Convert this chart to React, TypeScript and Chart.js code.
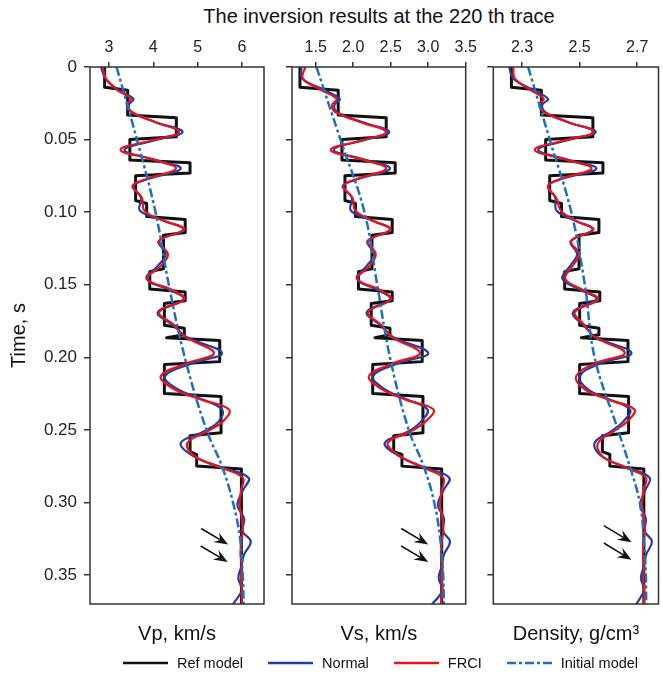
import React, { useEffect, useRef } from 'react';
import { Chart, registerables } from 'chart.js';

Chart.register(...registerables);

const FONT = '"Liberation Sans", Arial, Helvetica, sans-serif';

// ---------------- data ----------------
const T_MAX = 0.37;

// time axis ticks
const yTicks = [0, 0.05, 0.1, 0.15, 0.2, 0.25, 0.3, 0.35];
const yTickLabels = ['0', '0.05', '0.10', '0.15', '0.20', '0.25', '0.30', '0.35'];

// x-axis ticks per panel
const vpTicks = [3, 4, 5, 6];
const vpTickLabels = ['3', '4', '5', '6'];
const vsTicks = [1.5, 2.0, 2.5, 3.0, 3.5];
const vsTickLabels = ['1.5', '2.0', '2.5', '3.0', '3.5'];
const denTicks = [2.3, 2.5, 2.7];
const denTickLabels = ['2.3', '2.5', '2.7'];

// Reference model: layer top times (s) and layer values
const refTops = [0, 0.015, 0.034, 0.049, 0.065, 0.074, 0.093, 0.104, 0.115, 0.140, 0.154, 0.162, 0.179, 0.1855, 0.1875, 0.204, 0.226, 0.253, 0.266, 0.276];
const vpRef = [2.9, 3.42, 4.52, 3.47, 4.83, 3.6, 3.85, 4.72, 4.23, 3.92, 4.72, 4.25, 4.7, 4.3, 5.5, 4.25, 5.53, 4.83, 4.98, 5.99];
const vsRef = [1.29, 1.80, 2.44, 1.85, 2.56, 1.89, 2.03, 2.52, 2.25, 2.07, 2.52, 2.24, 2.49, 2.29, 2.92, 2.26, 2.93, 2.54, 2.65, 3.18];
const denRef = [2.263, 2.367, 2.546, 2.382, 2.581, 2.396, 2.437, 2.567, 2.498, 2.448, 2.57, 2.50, 2.567, 2.506, 2.668, 2.50, 2.67, 2.579, 2.605, 2.723];

// Inverted curves (Normal, FRCI) sampled at these times
const tSmooth = [0, 0.008, 0.016, 0.022, 0.026, 0.031, 0.038, 0.0447, 0.050, 0.057, 0.064, 0.070, 0.077, 0.082, 0.090, 0.099, 0.106, 0.112, 0.120, 0.129, 0.137, 0.146, 0.154, 0.160, 0.169, 0.178, 0.186, 0.197, 0.204, 0.213, 0.222, 0.229, 0.236, 0.244, 0.251, 0.259, 0.268, 0.276, 0.283, 0.292, 0.302, 0.311, 0.320, 0.327, 0.336, 0.344, 0.352, 0.360, 0.365, 0.370];

const vpNormal = [2.82, 2.92, 3.22, 3.55, 3.45, 3.50, 4.05, 4.66, 4.10, 3.35, 4.05, 4.62, 3.90, 3.55, 3.72, 3.70, 4.24, 4.68, 4.12, 4.28, 4.10, 3.85, 4.40, 4.68, 4.10, 4.45, 4.75, 5.55, 4.90, 4.26, 4.55, 5.10, 5.55, 5.48, 5.15, 4.62, 4.90, 5.55, 6.15, 6.02, 5.90, 6.05, 6.02, 6.20, 6.05, 5.99, 5.92, 6.00, 5.92, 5.80];
const vpFRCI = [2.86, 2.93, 3.19, 3.49, 3.40, 3.52, 4.05, 4.58, 4.05, 3.26, 4.02, 4.51, 3.87, 3.53, 3.74, 3.80, 4.24, 4.70, 4.13, 4.33, 4.17, 3.87, 4.45, 4.70, 4.13, 4.48, 4.72, 5.37, 4.77, 4.17, 4.47, 5.07, 5.71, 5.58, 5.22, 4.77, 4.92, 5.52, 6.02, 5.98, 5.95, 6.00, 6.02, 5.99, 5.97, 6.00, 5.98, 6.00, 6.00, 6.00];

const vsNormal = [1.31, 1.32, 1.62, 1.82, 1.75, 1.78, 2.12, 2.48, 2.18, 1.74, 2.16, 2.49, 2.08, 1.86, 1.98, 1.97, 2.26, 2.49, 2.19, 2.28, 2.18, 2.05, 2.34, 2.49, 2.18, 2.37, 2.53, 3.00, 2.61, 2.26, 2.42, 2.71, 2.99, 2.91, 2.74, 2.42, 2.61, 2.95, 3.28, 3.20, 3.13, 3.21, 3.20, 3.29, 3.21, 3.18, 3.14, 3.19, 3.14, 3.05];
const vsFRCI = [1.36, 1.33, 1.58, 1.78, 1.72, 1.76, 2.10, 2.44, 2.16, 1.70, 2.14, 2.44, 2.06, 1.87, 1.99, 2.03, 2.26, 2.50, 2.20, 2.30, 2.22, 2.06, 2.37, 2.50, 2.20, 2.38, 2.51, 2.89, 2.54, 2.21, 2.38, 2.69, 3.07, 2.97, 2.77, 2.46, 2.62, 2.93, 3.20, 3.18, 3.16, 3.19, 3.20, 3.18, 3.17, 3.19, 3.18, 3.19, 3.18, 3.17];

const denNormal = [2.255, 2.27, 2.34, 2.39, 2.37, 2.38, 2.46, 2.556, 2.467, 2.356, 2.46, 2.558, 2.44, 2.39, 2.415, 2.42, 2.486, 2.545, 2.469, 2.491, 2.467, 2.44, 2.507, 2.558, 2.477, 2.514, 2.555, 2.68, 2.575, 2.50, 2.528, 2.602, 2.675, 2.653, 2.609, 2.552, 2.575, 2.663, 2.743, 2.727, 2.71, 2.73, 2.727, 2.751, 2.731, 2.723, 2.713, 2.724, 2.713, 2.697];
const denFRCI = [2.269, 2.275, 2.33, 2.375, 2.36, 2.375, 2.46, 2.549, 2.46, 2.344, 2.456, 2.541, 2.436, 2.39, 2.418, 2.435, 2.486, 2.548, 2.471, 2.498, 2.476, 2.45, 2.514, 2.564, 2.483, 2.518, 2.551, 2.657, 2.557, 2.488, 2.517, 2.598, 2.69, 2.667, 2.618, 2.564, 2.578, 2.659, 2.73, 2.721, 2.717, 2.724, 2.727, 2.722, 2.72, 2.724, 2.721, 2.724, 2.724, 2.724];

// Initial (smooth) model
const tInit = [0, 0.05, 0.1, 0.15, 0.2, 0.25, 0.275, 0.3, 0.325, 0.35, 0.37];
const vpInit = [3.17, 3.63, 4.05, 4.35, 4.71, 5.2, 5.55, 5.8, 5.96, 6.02, 6.04];
const vsInit = [1.51, 1.83, 2.15, 2.32, 2.49, 2.74, 2.94, 3.08, 3.16, 3.2, 3.21];
const denInit = [2.321, 2.396, 2.471, 2.518, 2.552, 2.633, 2.674, 2.709, 2.723, 2.73, 2.731];

// arrows: [fromValue, fromTime, toValue, toTime]
const vpArrows = [[5.08, 0.318, 5.69, 0.329], [5.07, 0.330, 5.68, 0.341]];
const vsArrows = [[2.64, 0.318, 3.0, 0.329], [2.64, 0.330, 3.0, 0.341]];
const denArrows = [[2.584, 0.316, 2.68, 0.3275], [2.584, 0.328, 2.68, 0.3395]];

// ---------------- helpers ----------------
const C_REF = '#111111';
const C_NORMAL = '#1f3fa6';
const C_FRCI = '#e8141c';
const C_INIT = '#1f6fc0';
const INIT_DASH = [9, 3, 3, 3];
const RAMP = 0.001; // half-width (s) of the slanted layer transitions of the ref line

function zipPts(vals: number[], times: number[]) {
  return vals.map((v, i) => ({ x: v, y: times[i] }));
}

function stepPts(tops: number[], vals: number[], end: number) {
  const pts: { x: number; y: number }[] = [];
  for (let i = 0; i < tops.length; i++) {
    const t0 = i === 0 ? tops[i] : tops[i] + RAMP;
    const t1 = i + 1 < tops.length ? tops[i + 1] - RAMP : end;
    pts.push({ x: vals[i], y: t0 });
    pts.push({ x: vals[i], y: Math.max(t0, t1) });
  }
  return pts;
}

const framePlugin = {
  id: 'frame',
  afterDatasetsDraw(chart: any) {
    const { ctx, chartArea: a } = chart;
    ctx.save();
    ctx.strokeStyle = '#333';
    ctx.lineWidth = 1.5;
    ctx.strokeRect(a.left, a.top, a.right - a.left, a.bottom - a.top);
    ctx.restore();
  },
};

function arrowPlugin(list: number[][]) {
  return {
    id: 'arrows',
    afterDatasetsDraw(chart: any) {
      const { ctx } = chart;
      const xs = chart.scales.x;
      const ys = chart.scales.y;
      ctx.save();
      ctx.strokeStyle = '#111';
      ctx.fillStyle = '#111';
      ctx.lineWidth = 1.6;
      list.forEach(([v0, t0, v1, t1]) => {
        const x0 = xs.getPixelForValue(v0);
        const y0 = ys.getPixelForValue(t0);
        const x1 = xs.getPixelForValue(v1);
        const y1 = ys.getPixelForValue(t1);
        const dx = x1 - x0;
        const dy = y1 - y0;
        const len = Math.hypot(dx, dy);
        const ux = dx / len;
        const uy = dy / len;
        const nx = -uy;
        const ny = ux;
        const headL = 14;
        const headW = 5.5;
        const notch = 9;
        const bx = x1 - ux * headL;
        const by = y1 - uy * headL;
        const mx = x1 - ux * notch;
        const my = y1 - uy * notch;
        ctx.beginPath();
        ctx.moveTo(x0, y0);
        ctx.lineTo(mx, my);
        ctx.stroke();
        ctx.beginPath();
        ctx.moveTo(x1, y1);
        ctx.lineTo(bx + nx * headW, by + ny * headW);
        ctx.lineTo(mx, my);
        ctx.lineTo(bx - nx * headW, by - ny * headW);
        ctx.closePath();
        ctx.fill();
      });
      ctx.restore();
    },
  };
}

type PanelCfg = {
  width: number;
  height: number;
  yWidth: number;
  padRight: number;
  xMin: number;
  xMax: number;
  ticks: number[];
  tickLabels: string[];
  title: string;
  ref: number[];
  normal: number[];
  frci: number[];
  init: number[];
  arrows: number[][];
  showY: boolean;
};

function buildChart(canvas: HTMLCanvasElement, cfg: PanelCfg) {
  return new Chart(canvas, {
    type: 'scatter',
    data: {
      datasets: [
        {
          label: 'Initial model',
          data: zipPts(cfg.init, tInit),
          showLine: true,
          borderColor: C_INIT,
          borderWidth: 2.5,
          borderDash: INIT_DASH,
          pointRadius: 0,
          tension: 0.4,
          order: 1,
        },
        {
          label: 'FRCI',
          data: zipPts(cfg.frci, tSmooth),
          showLine: true,
          borderColor: C_FRCI,
          borderWidth: 2.2,
          pointRadius: 0,
          tension: 0.4,
          order: 2,
        },
        {
          label: 'Normal',
          data: zipPts(cfg.normal, tSmooth),
          showLine: true,
          borderColor: C_NORMAL,
          borderWidth: 2.2,
          pointRadius: 0,
          tension: 0.4,
          order: 3,
        },
        {
          label: 'Ref model',
          data: stepPts(refTops, cfg.ref, T_MAX),
          showLine: true,
          borderColor: C_REF,
          borderWidth: 3,
          borderJoinStyle: 'round',
          borderCapStyle: 'round',
          pointRadius: 0,
          tension: 0,
          order: 4,
        },
      ] as any,
    },
    options: {
      animation: false,
      responsive: false,
      maintainAspectRatio: false,
      events: [],
      layout: { padding: { top: 30, left: 0, right: cfg.padRight, bottom: 0 } },
      plugins: {
        legend: { display: false },
        tooltip: { enabled: false },
        title: {
          display: true,
          position: 'bottom',
          fullSize: false,
          text: cfg.title,
          color: '#111',
          font: { family: FONT, size: 20, weight: 'normal' },
          padding: { top: 18, bottom: 14 },
        },
      },
      scales: {
        x: {
          type: 'linear',
          position: 'top',
          min: cfg.xMin,
          max: cfg.xMax,
          afterBuildTicks: (s: any) => {
            s.ticks = cfg.ticks.map((v) => ({ value: v }));
          },
          afterFit: (s: any) => {
            s.height = 37;
            s.paddingLeft = 0;
            s.paddingRight = 0;
          },
          grid: { display: true, drawOnChartArea: false, drawTicks: true, tickLength: 5, color: '#333', lineWidth: 1.5 },
          border: { display: false },
          ticks: {
            padding: 5,
            color: '#222',
            maxRotation: 0,
            autoSkip: false,
            font: { family: FONT, size: 16 },
            callback: (_v: any, i: number) => cfg.tickLabels[i],
          },
        },
        y: {
          type: 'linear',
          position: 'left',
          reverse: true,
          min: 0,
          max: T_MAX,
          afterBuildTicks: (s: any) => {
            s.ticks = yTicks.map((v) => ({ value: v }));
          },
          afterFit: (s: any) => {
            s.width = cfg.yWidth;
            s.paddingTop = 0;
            s.paddingBottom = 0;
          },
          grid: { display: true, drawOnChartArea: false, drawTicks: true, tickLength: 6, color: '#333', lineWidth: 1.5 },
          border: { display: false },
          ticks: {
            display: cfg.showY,
            padding: 7,
            color: '#222',
            autoSkip: false,
            font: { family: FONT, size: 17 },
            callback: (_v: any, i: number) => yTickLabels[i],
          },
          title: {
            display: cfg.showY,
            text: 'Time, s',
            color: '#111',
            font: { family: FONT, size: 20 },
            padding: { top: 7, bottom: 0 },
          },
        },
      },
    } as any,
    plugins: [framePlugin, arrowPlugin(cfg.arrows)],
  });
}

const H = 660;

const panels: (PanelCfg & { left: number })[] = [
  {
    left: 0, width: 270, height: H, yWidth: 90, padRight: 6,
    xMin: 2.57, xMax: 6.5, ticks: vpTicks, tickLabels: vpTickLabels,
    title: 'Vp, km/s', ref: vpRef, normal: vpNormal, frci: vpFRCI, init: vpInit, arrows: vpArrows, showY: true,
  },
  {
    left: 280, width: 210, height: H, yWidth: 12, padRight: 24.3,
    xMin: 1.184, xMax: 3.5, ticks: vsTicks, tickLabels: vsTickLabels,
    title: 'Vs, km/s', ref: vsRef, normal: vsNormal, frci: vsFRCI, init: vsInit, arrows: vsArrows, showY: false,
  },
  {
    left: 480, width: 183, height: H, yWidth: 13.3, padRight: 4.5,
    xMin: 2.2, xMax: 2.774, ticks: denTicks, tickLabels: denTickLabels,
    title: 'Density, g/cm\u00B3', ref: denRef, normal: denNormal, frci: denFRCI, init: denInit, arrows: denArrows, showY: false,
  },
];

const legendItems = [
  { label: 'Ref model', color: C_REF, dash: false },
  { label: 'Normal', color: C_NORMAL, dash: false },
  { label: 'FRCI', color: C_FRCI, dash: false },
  { label: 'Initial model', color: C_INIT, dash: true },
];

export default function App() {
  const refs = [useRef<HTMLCanvasElement>(null), useRef<HTMLCanvasElement>(null), useRef<HTMLCanvasElement>(null)];

  useEffect(() => {
    const charts = panels.map((p, i) => buildChart(refs[i].current as HTMLCanvasElement, p));
    return () => charts.forEach((c) => c.destroy());
  }, []);

  return (
    <div
      style={{
        position: 'fixed',
        left: 0,
        top: 0,
        width: 663,
        height: 680,
        background: '#fff',
        overflow: 'hidden',
        fontFamily: FONT,
        color: '#111',
      }}
    >
      <div
        style={{
          position: 'absolute',
          left: 379,
          top: 4,
          transform: 'translateX(-50%)',
          whiteSpace: 'nowrap',
          fontSize: 20,
          lineHeight: '24px',
        }}
      >
        The inversion results at the 220 th trace
      </div>
      {panels.map((p, i) => (
        <canvas
          key={i}
          ref={refs[i]}
          width={p.width}
          height={p.height}
          style={{ position: 'absolute', left: p.left, top: 0, width: p.width, height: p.height }}
        />
      ))}
      <div
        style={{
          position: 'absolute',
          left: 123,
          top: 654,
          display: 'flex',
          alignItems: 'center',
          fontSize: 14.5,
          lineHeight: '18px',
          whiteSpace: 'nowrap',
        }}
      >
        {legendItems.map((it, i) => (
          <div key={i} style={{ display: 'flex', alignItems: 'center', marginRight: i < legendItems.length - 1 ? 25 : 0 }}>
            <svg width={45} height={6} style={{ marginRight: 9 }}>
              <line
                x1={0}
                y1={3}
                x2={45}
                y2={3}
                stroke={it.color}
                strokeWidth={2.6}
                strokeDasharray={it.dash ? INIT_DASH.join(' ') : undefined}
              />
            </svg>
            <span>{it.label}</span>
          </div>
        ))}
      </div>
    </div>
  );
}
